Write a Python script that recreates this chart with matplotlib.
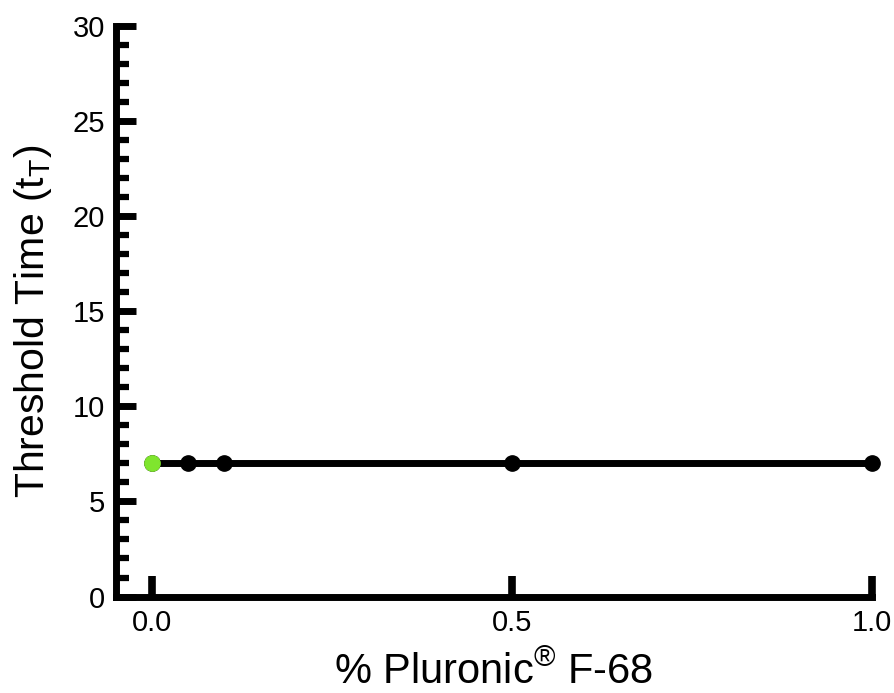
import matplotlib
matplotlib.use("Agg")
import matplotlib.pyplot as plt
from matplotlib.ticker import MultipleLocator

plt.rcParams['font.family'] = ['Liberation Sans', 'DejaVu Sans']
plt.rcParams['mathtext.fontset'] = 'custom'
plt.rcParams['mathtext.rm'] = 'Liberation Sans'
plt.rcParams['mathtext.it'] = 'Liberation Sans:italic'
plt.rcParams['mathtext.bf'] = 'Liberation Sans:bold'

# Data
control_x = [0.0]
control_y = [7]
pluronic_x = [0.0, 0.05, 0.1, 0.5, 1.0]
pluronic_y = [7, 7, 7, 7, 7]
x_ticks = [0.0, 0.5, 1.0]
x_tick_labels = ["0.0", "0.5", "1.0"]
y_ticks = [0, 5, 10, 15, 20, 25, 30]

fig = plt.figure(figsize=(8.95, 6.93), dpi=100)
ax = fig.add_axes([0.1296, 0.1392, 0.8447, 0.8240])

ax.plot(pluronic_x, pluronic_y, color='black', lw=5, marker='o', ms=11,
        clip_on=False, zorder=3, solid_capstyle='butt')
ax.plot(control_x, control_y, color='#7fe52e', lw=0, marker='o', ms=11,
        clip_on=False, zorder=4)

ax.set_xlim(-0.0493, 1.0)
ax.set_ylim(0, 30)
ax.set_xticks(x_ticks)
ax.set_xticklabels(x_tick_labels)
ax.set_yticks(y_ticks)
ax.yaxis.set_minor_locator(MultipleLocator(1))

for s in ['top', 'right']:
    ax.spines[s].set_visible(False)
for s in ['left', 'bottom']:
    ax.spines[s].set_linewidth(5)
    ax.spines[s].set_color('black')

ax.tick_params(axis='y', which='major', direction='in', length=14.5, width=5,
               labelsize=21, pad=8)
ax.tick_params(axis='y', which='minor', direction='in', length=9.4, width=4.5)
ax.tick_params(axis='x', which='major', direction='in', length=15, width=5.5,
               labelsize=21, pad=9)

ax.set_xlabel('% Pluronic$^{®}$ F-68', fontsize=30)
ax.set_ylabel('Threshold Time (t$_\\mathregular{T}$)', fontsize=29.5)
ax.xaxis.set_label_coords(0.5, -0.097)
ax.yaxis.set_label_coords(-0.082, 0.4825)

fig.savefig('out.png', dpi=100)
